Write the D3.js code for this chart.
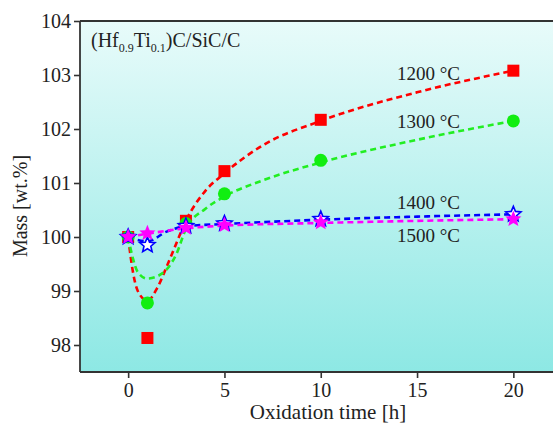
<!DOCTYPE html>
<html><head><meta charset="utf-8">
<script src="https://cdn.jsdelivr.net/npm/d3@7"></script>
<style>body{margin:0;background:#fff}svg{display:block}</style>
</head><body>
<svg id="c" width="553" height="425"></svg>
<script>
const times = [0, 1, 3, 5, 10, 20];
const mass1200 = [100, 98.13, 100.3, 101.22, 102.17, 103.08];
const mass1300 = [100, 98.78, 100.25, 100.8, 101.42, 102.15];
const mass1400 = [100, 99.85, 100.2, 100.25, 100.33, 100.42];
const mass1500 = [100, 100.07, 100.17, 100.22, 100.27, 100.33];

const fit1200X = [0, 0.25, 0.5, 1, 1.5, 2, 2.5, 3, 4, 5, 7, 10, 15, 20];
const fit1200Y = [100, 99.35, 99.0, 98.82, 99.05, 99.45, 99.88, 100.3, 100.85, 101.18, 101.7, 102.15, 102.68, 103.08];
const fit1300X = [0, 0.25, 0.5, 1, 1.5, 2, 2.5, 3, 4, 5, 7, 10, 15, 20];
const fit1300Y = [100, 99.6, 99.35, 99.23, 99.27, 99.4, 99.68, 100.15, 100.52, 100.75, 101.05, 101.38, 101.8, 102.15];
const fit1400X = [0, 1, 2, 3, 5, 10, 20];
const fit1400Y = [100, 99.92, 100.1, 100.2, 100.24, 100.32, 100.42];
const fit1500X = [0, 1, 3, 5, 10, 20];
const fit1500Y = [100, 100.06, 100.16, 100.21, 100.26, 100.33];

const xTicks = [0, 5, 10, 15, 20];
const yTicks = [98, 99, 100, 101, 102, 103, 104];
const seriesLabels = ["1200 °C", "1300 °C", "1400 °C", "1500 °C"];

const svg = d3.select("#c");
const L = 80, T = 21, B = 372, R = 561.5;
const x = d3.scaleLinear().domain([-2.5, 22.5]).range([L, R]);
const y = d3.scaleLinear().domain([97.5, 104]).range([B, T]);

const defs = svg.append("defs");
const g = defs.append("linearGradient").attr("id", "bg").attr("x1", 0).attr("y1", 0).attr("x2", 0).attr("y2", 1);
g.append("stop").attr("offset", "0%").attr("stop-color", "#e8fbfa");
g.append("stop").attr("offset", "100%").attr("stop-color", "#8de8e4");
svg.append("rect").attr("x", L).attr("y", T).attr("width", R - L).attr("height", B - T).attr("fill", "url(#bg)");

const font = "'Liberation Serif', 'Times New Roman', serif";

// axes
const ax = svg.append("g").attr("transform", `translate(0,${B})`)
  .call(d3.axisBottom(x).tickValues(xTicks).tickSize(6).tickPadding(5).tickFormat(d3.format("d")));
const ay = svg.append("g").attr("transform", `translate(${L},0)`)
  .call(d3.axisLeft(y).tickValues(yTicks).tickSize(6).tickPadding(3).tickFormat(d3.format("d")));
[ax, ay].forEach(a => {
  a.select(".domain").attr("stroke", "#333").attr("stroke-width", 1.8);
  a.selectAll(".tick line").attr("stroke", "#333").attr("stroke-width", 1.6);
  a.selectAll("text").attr("font-family", font).attr("font-size", 20).attr("fill", "#222");
});
ay.select(".domain").attr("d", `M0,${B}V${T}`);
ax.select(".domain").attr("d", `M${L},0H${R}`);
svg.append("line").attr("x1", L).attr("x2", R).attr("y1", T).attr("y2", T).attr("stroke", "#333").attr("stroke-width", 1.8);

// fits
const fits = [
  [fit1200X, fit1200Y, "#ff0000"],
  [fit1300X, fit1300Y, "#22ee22"],
  [fit1400X, fit1400Y, "#0000ff"],
  [fit1500X, fit1500Y, "#ff00ff"]
];
const line = d3.line().x(d => x(d[0])).y(d => y(d[1])).curve(d3.curveMonotoneX);
fits.forEach(([xs, ys, c]) => {
  svg.append("path").attr("d", line(xs.map((v, i) => [v, ys[i]])))
    .attr("fill", "none").attr("stroke", c).attr("stroke-width", 2.6).attr("stroke-dasharray", "6,4");
});

function starPath(cx, cy, ro, ri) {
  let p = "";
  for (let i = 0; i < 10; i++) {
    const a = -Math.PI / 2 + i * Math.PI / 5;
    const r = i % 2 ? ri : ro;
    p += (i ? "L" : "M") + (cx + r * Math.cos(a)).toFixed(2) + "," + (cy + r * Math.sin(a)).toFixed(2);
  }
  return p + "Z";
}

// markers
svg.selectAll(".m1200").data(times).join("rect")
  .attr("x", (d, i) => x(d) - 6).attr("y", (d, i) => y(mass1200[i]) - 6)
  .attr("width", 12).attr("height", 12).attr("fill", "#ff0000");
svg.selectAll(".m1300").data(times).join("circle")
  .attr("cx", d => x(d)).attr("cy", (d, i) => y(mass1300[i])).attr("r", 6.5).attr("fill", "#11ee11");
svg.selectAll(".m1400").data(times).join("path")
  .attr("d", (d, i) => starPath(x(d), y(mass1400[i]), 8, 3.6))
  .attr("fill", "#ffffff").attr("stroke", "#0000ff").attr("stroke-width", 1.6);
svg.selectAll(".m1500").data(times).join("path")
  .attr("d", (d, i) => starPath(x(d), y(mass1500[i]), 8.5, 3.8))
  .attr("fill", "#ff00ff");

// labels
const lbl = [[397, 80], [397, 128], [397, 209], [397, 242]];
seriesLabels.forEach((t, i) => {
  svg.append("text").attr("x", lbl[i][0]).attr("y", lbl[i][1]).text(t)
    .attr("font-family", font).attr("font-size", 19).attr("fill", "#222");
});

const tt = svg.append("text").attr("x", 91).attr("y", 47).attr("font-family", font).attr("font-size", 20).attr("fill", "#222");
tt.append("tspan").text("(Hf");
tt.append("tspan").text("0.9").attr("font-size", 12).attr("dy", 5);
tt.append("tspan").text("Ti").attr("dy", -5);
tt.append("tspan").text("0.1").attr("font-size", 12).attr("dy", 5);
tt.append("tspan").text(")C/SiC/C").attr("dy", -5);

svg.append("text").attr("x", 328).attr("y", 419).attr("text-anchor", "middle")
  .attr("font-family", font).attr("font-size", 21).attr("fill", "#222").text("Oxidation time [h]");
svg.append("text").attr("transform", "translate(27,206) rotate(-90)").attr("text-anchor", "middle")
  .attr("font-family", font).attr("font-size", 20).attr("fill", "#222").text("Mass [wt.%]");
</script>
</body></html>
